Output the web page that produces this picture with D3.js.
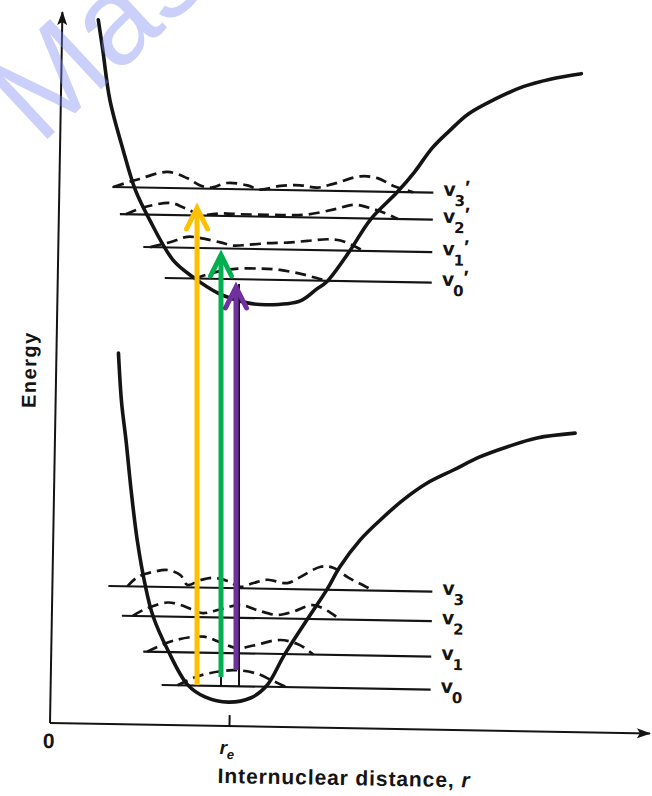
<!DOCTYPE html>
<html><head><meta charset="utf-8">
<script src="https://cdn.jsdelivr.net/npm/d3@7"></script>
<style>body{margin:0;background:#fff}svg{display:block}</style>
</head><body>
<svg id="c" width="652" height="796"></svg>
<script>
// ---------- data ----------
const rMax = 6, eMax = 14.22;
const rEquilibrium = 1.79;
const upperCurve = [[0.36,14.08],[0.41,13.48],[0.49,12.48],[0.63,11.49],[0.76,10.69],[0.91,10.09],[1.15,9.3],[1.35,8.97],[1.6,8.66],[1.9,8.47],[2.1,8.44],[2.43,8.53],[2.59,8.77],[2.69,8.92],[2.9,9.5],[3.12,10.19],[3.38,10.74],[3.55,11.15],[3.72,11.63],[3.89,11.98],[4.08,12.33],[4.35,12.64],[4.62,12.89],[4.89,13.05],[5.2,13.17]];
const lowerCurve = [[0.62,7.42],[0.66,6.43],[0.71,5.69],[0.77,4.69],[0.84,3.69],[0.93,2.77],[1.01,2.18],[1.17,1.48],[1.37,0.81],[1.55,0.57],[1.78,0.48],[2.0,0.57],[2.16,0.82],[2.33,1.44],[2.55,2.15],[2.75,2.78],[2.87,3.22],[3.07,3.77],[3.27,4.18],[3.49,4.58],[3.73,4.93],[3.99,5.2],[4.25,5.47],[4.52,5.68],[4.82,5.87],[5.2,5.98]];
const levelNames = ["3","2","1","0"];
const upperLevels = [10.74, 10.2, 9.55, 8.94];
const upperLevelStart = [0.53, 0.61, 0.85, 1.07];
const upperLevelEnd = 3.74;
const lowerLevels = [2.76, 2.17, 1.46, 0.80];
const lowerLevelStart = [0.56, 0.70, 0.92, 1.11];
const lowerLevelEnd = 3.80;
const upperPsi = [
  [[0.54,0],[0.78,0.16],[1.08,0.32],[1.28,0.2],[1.41,0.06],[1.51,0.02],[1.68,0.12],[1.88,0.08],[2.01,0],[2.21,0.08],[2.41,0.1],[2.58,0.06],[2.74,0.14],[3.01,0.3],[3.18,0.27],[3.34,0.12],[3.54,0]],
  [[0.67,0],[0.84,0.14],[1.12,0.24],[1.25,0.15],[1.42,0.02],[1.62,0.05],[1.82,0.04],[2.09,0.04],[2.29,0.04],[2.49,0.06],[2.75,0.17],[2.95,0.27],[3.09,0.22],[3.25,0.12],[3.39,0]],
  [[0.92,0],[1.14,0.12],[1.29,0.22],[1.42,0.2],[1.62,0.12],[1.75,0.06],[1.89,0.08],[2.09,0.12],[2.29,0.14],[2.49,0.18],[2.69,0.22],[2.82,0.2],[2.95,0.1],[3.05,0]],
  [[1.37,0],[1.52,0.1],[1.75,0.2],[2.02,0.22],[2.22,0.2],[2.45,0.12],[2.65,0.02],[2.72,0]]
];
const lowerPsi = [
  [[0.75,0],[0.85,0.19],[1.01,0.3],[1.15,0.34],[1.28,0.24],[1.35,0.05],[1.48,0.15],[1.61,0.2],[1.75,0.14],[1.88,0.03],[2.01,0.11],[2.15,0.18],[2.35,0.12],[2.48,0.25],[2.68,0.46],[2.81,0.44],[2.95,0.26],[3.15,0.06],[3.2,0]],
  [[0.81,0],[0.91,0.12],[1.15,0.28],[1.28,0.24],[1.41,0.14],[1.51,0.08],[1.68,0.16],[1.88,0.26],[2.05,0.16],[2.25,0.07],[2.41,0.14],[2.61,0.28],[2.78,0.14],[2.88,0]],
  [[0.96,0],[1.22,0.23],[1.52,0.32],[1.69,0.21],[1.86,0.1],[2.02,0.16],[2.29,0.28],[2.49,0.18],[2.62,0]],
  [[1.27,0],[1.49,0.2],[1.82,0.32],[2.06,0.26],[2.22,0.12],[2.36,0]]
];
// vertical transitions: r position, start energy, end energy
const transR = [1.47, 1.71, 1.86];
const transFrom = [0.76, 0.92, 1.06];
const transTo = [10.3, 9.36, 8.72];
const transColors = ["#FFC000", "#00B050", "#7030A0"];
const blackR = [1.89, 1.71];
const blackFrom = [0.74, 0.74];
const blackTo = [8.78, 9.42];
const xTitle = "Internuclear distance, ";
const yTitle = "Energy";
const watermark = "Mas";

// ---------- scales ----------
const x = d3.scaleLinear().domain([0, rMax]).range([50, 650]);
const y = d3.scaleLinear().domain([0, eMax]).range([723, 12]);
const svg = d3.select("#c");
const ink = "#141414";

const defs = svg.append("defs");
defs.append("marker").attr("id","ah").attr("markerUnits","userSpaceOnUse")
  .attr("viewBox","0 -6 14 12").attr("refX",13).attr("refY",0)
  .attr("markerWidth",14).attr("markerHeight",12).attr("orient","auto")
  .append("path").attr("d","M0,-5 L14,0 L0,5 L3,0 Z").attr("fill",ink);

const g = svg.append("g").attr("transform", `rotate(1, ${x(0)}, ${y(0)})`);

// axes
g.append("line").attr("x1",x(0)).attr("y1",y(0)).attr("x2",x(0)).attr("y2",y(eMax))
  .attr("stroke",ink).attr("stroke-width",2).attr("marker-end","url(#ah)");
g.append("line").attr("x1",x(0)).attr("y1",y(0)).attr("x2",x(rMax)).attr("y2",y(0))
  .attr("stroke",ink).attr("stroke-width",2).attr("marker-end","url(#ah)");
const ax = g.append("g").attr("transform",`translate(0,${y(0)})`)
  .call(d3.axisBottom(x).tickValues([rEquilibrium]).tickSize(-11).tickFormat(""));
ax.select(".domain").remove();
ax.selectAll(".tick line").attr("stroke",ink).attr("stroke-width",2);

g.append("text").attr("x",x(0)-1).attr("y",y(0)+25).attr("text-anchor","middle")
  .attr("font-family","Liberation Sans, Arial, sans-serif").attr("font-weight","bold")
  .attr("font-size",21).attr("fill",ink).text("0");
const re = g.append("text").attr("x",x(rEquilibrium)-9).attr("y",y(0)+28)
  .attr("font-family","Liberation Sans, Arial, sans-serif").attr("font-weight","bold")
  .attr("font-style","italic").attr("font-size",19).attr("fill",ink);
re.append("tspan").text("r");
re.append("tspan").attr("dy",5).attr("font-size",13).text("e");

const xt = g.append("text").attr("x",(x(0)+x(rMax))/2 - 5).attr("y",y(0)+57).attr("text-anchor","middle")
  .attr("font-family","Liberation Sans, Arial, sans-serif").attr("font-weight","bold")
  .attr("font-size",21).attr("letter-spacing",0.9).attr("fill",ink);
xt.append("tspan").text(xTitle);
xt.append("tspan").attr("font-style","italic").text("r");

g.append("text").attr("transform",`translate(${x(0)-20},${y(7.06)}) rotate(-90)`)
  .attr("text-anchor","middle").attr("font-family","Liberation Sans, Arial, sans-serif")
  .attr("font-weight","bold").attr("font-size",20).attr("letter-spacing",1.5).attr("fill",ink).text(yTitle);

// potential curves
const curve = d3.line().x(d=>x(d[0])).y(d=>y(d[1])).curve(d3.curveCatmullRom.alpha(0.5));
[upperCurve, lowerCurve].forEach(c => g.append("path").attr("d",curve(c)).attr("fill","none")
  .attr("stroke",ink).attr("stroke-width",3.6).attr("stroke-linecap","round"));

// levels, wavefunctions, labels
function drawLevels(levels, starts, end, psis, prime) {
  levels.forEach((E,i) => {
    g.append("line").attr("x1",x(starts[i])).attr("x2",x(end)).attr("y1",y(E)).attr("y2",y(E))
      .attr("stroke",ink).attr("stroke-width",2.1);
    const pl = d3.line().x(d=>x(d[0])).y(d=>y(E+d[1])).curve(d3.curveCatmullRom.alpha(0.5));
    g.append("path").attr("d",pl(psis[i])).attr("fill","none").attr("stroke",ink)
      .attr("stroke-width",2.7).attr("stroke-dasharray","11 6");
    const t = g.append("text").attr("x",x(end)+10).attr("y",y(E)+3)
      .attr("font-family","DejaVu Sans, sans-serif").attr("font-weight","bold")
      .attr("font-size",19).attr("fill",ink);
    t.append("tspan").text("v");
    t.append("tspan").attr("dx",-1).attr("dy",10).attr("font-size",15).text(levelNames[i]);
    if (prime) t.append("tspan").attr("dx",0).attr("dy",-11.6)
      .attr("font-family","Liberation Sans, Arial, sans-serif").attr("font-size",20).text("\u2032");
  });
}
drawLevels(upperLevels, upperLevelStart, upperLevelEnd, upperPsi, true);
drawLevels(lowerLevels, lowerLevelStart, lowerLevelEnd, lowerPsi, false);

// original black transition lines (unrotated overlay layer)
const overlay = svg.append("g");
blackR.forEach((r,i) => overlay.append("line").attr("x1",x(r)).attr("x2",x(r))
  .attr("y1",y(blackFrom[i])).attr("y2",y(blackTo[i])).attr("stroke",ink).attr("stroke-width",2));

// coloured arrows
transR.forEach((r,i) => {
  const c = transColors[i];
  overlay.append("line").attr("x1",x(r)).attr("x2",x(r)).attr("y1",y(transFrom[i])).attr("y2",y(transTo[i])+2)
    .attr("stroke",c).attr("stroke-width",5);
  const tx = x(r), ty = y(transTo[i]);
  overlay.append("path").attr("d",d3.line()([[tx-10.5,ty+21],[tx,ty],[tx+10.5,ty+21]]))
    .attr("fill","none").attr("stroke",c).attr("stroke-width",5)
    .attr("stroke-linecap","round").attr("stroke-linejoin","miter");
});

// watermark
svg.append("text").attr("transform","translate(40,146) rotate(-43)")
  .attr("font-family","Liberation Sans, Arial, sans-serif").attr("font-size",125)
  .attr("fill","rgb(125,137,242)").attr("fill-opacity",0.4).text(watermark);
</script>
</body></html>
